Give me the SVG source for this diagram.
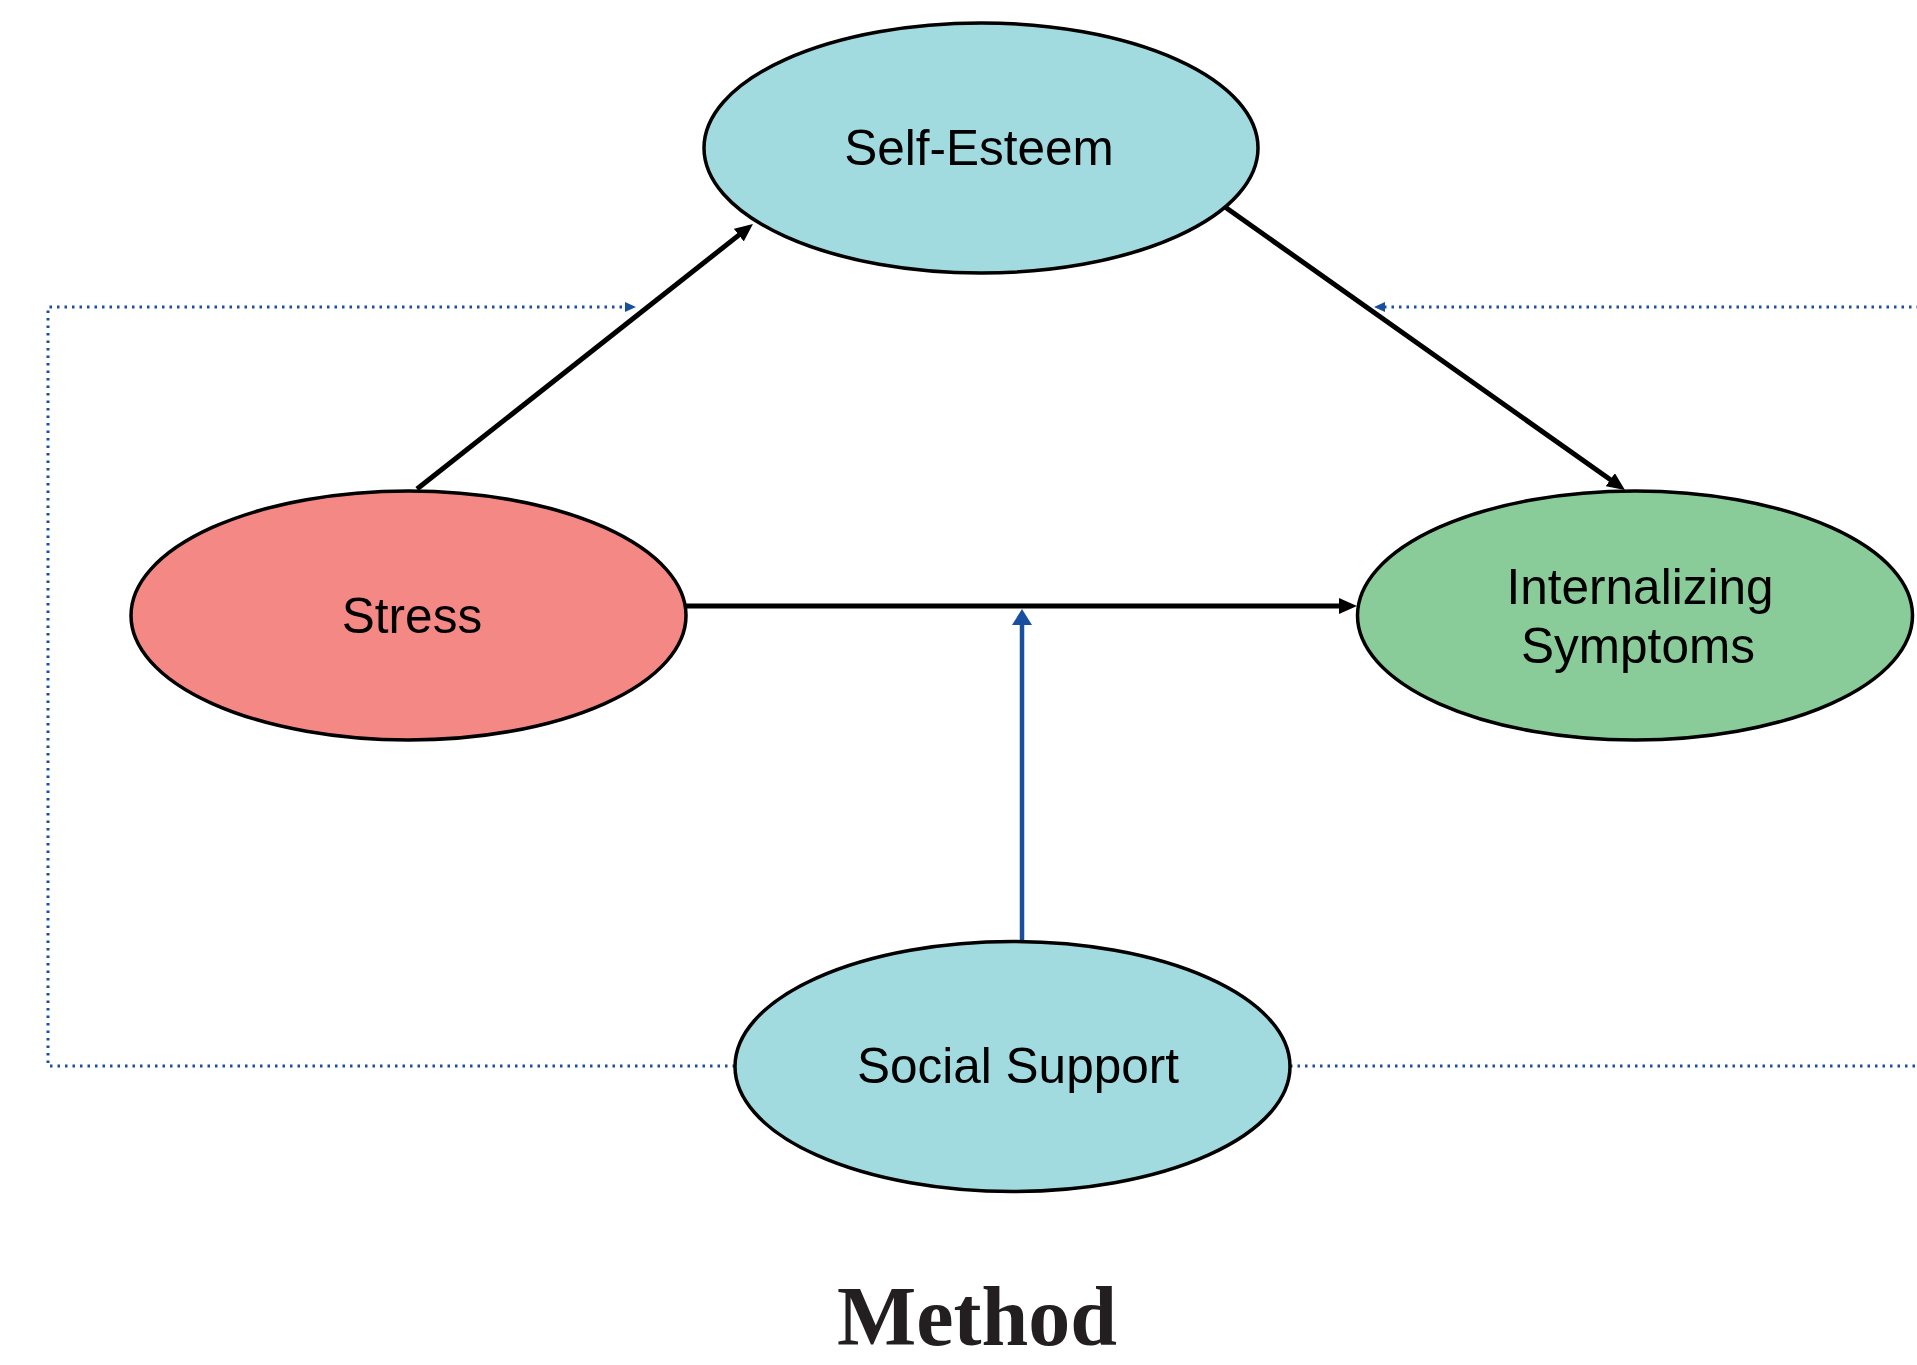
<svg xmlns="http://www.w3.org/2000/svg" width="1917" height="1365" viewBox="0 0 1917 1365">
<style>
.node ellipse{stroke:#000;stroke-width:3.5}
.lbl{font-family:"Liberation Sans",Arial,sans-serif;font-size:49.5px;fill:#000;text-anchor:middle}
.teal{fill:#a1dadf}
.red{fill:#f38885}
.green{fill:#89cc99}
.solid{stroke:#000;stroke-width:5;fill:none}
.blue{stroke:#1a4fa0;stroke-width:4.5;fill:none}
.dot{stroke:#1a4fa0;stroke-width:3;fill:none;stroke-dasharray:2.5 5}
.title{font-family:"Liberation Serif","Times New Roman",serif;font-weight:bold;font-size:84px;fill:#231f20;text-anchor:middle}
</style>
<defs>
<marker id="ab" markerUnits="userSpaceOnUse" markerWidth="18" markerHeight="16" refX="2" refY="8" orient="auto" viewBox="0 0 18 16">
<path d="M0,0 L18,8 L0,16 z" fill="#000"/>
</marker>
<marker id="abl" markerUnits="userSpaceOnUse" markerWidth="16" markerHeight="20" refX="2" refY="10" orient="auto" viewBox="0 0 16 20">
<path d="M0,0 L16,10 L0,20 z" fill="#1a4fa0"/>
</marker>
<marker id="ad" markerUnits="userSpaceOnUse" markerWidth="11" markerHeight="10" refX="1" refY="5" orient="auto" viewBox="0 0 11 10">
<path d="M0,0 L11,5 L0,10 z" fill="#1a4fa0"/>
</marker>
</defs>
<rect width="1917" height="1365" fill="#fff"/>
<g id="connectors">
<path class="dot" d="M735,1066 H48 V307 H626" marker-end="url(#ad)"/>
<path class="dot" d="M1290,1066 H1930 V307 H1384" marker-end="url(#ad)"/>
<line class="solid" x1="417" y1="489" x2="740.4" y2="233.9" marker-end="url(#ab)"/>
<line class="solid" x1="1225" y1="207" x2="1611.9" y2="480.8" marker-end="url(#ab)"/>
<line class="solid" x1="686" y1="606" x2="1341" y2="606" marker-end="url(#ab)"/>
<line class="blue" x1="1022" y1="940" x2="1022" y2="623" marker-end="url(#abl)"/>
</g>
<g id="self-esteem" class="node">
<ellipse class="teal" cx="981" cy="148" rx="277" ry="125"/>
<text class="lbl" x="979" y="165">Self-Esteem</text>
</g>
<g id="stress" class="node">
<ellipse class="red" cx="408.5" cy="615.5" rx="277.5" ry="124.5"/>
<text class="lbl" x="412" y="633">Stress</text>
</g>
<g id="internalizing" class="node">
<ellipse class="green" cx="1635" cy="615.5" rx="277.5" ry="124.5"/>
<text class="lbl" x="1640" y="604">Internalizing</text>
<text class="lbl" x="1638" y="663">Symptoms</text>
</g>
<g id="social-support" class="node">
<ellipse class="teal" cx="1012.5" cy="1066.5" rx="277.5" ry="125"/>
<text class="lbl" x="1018" y="1083">Social Support</text>
</g>
<text class="title" x="977" y="1345">Method</text>
</svg>
